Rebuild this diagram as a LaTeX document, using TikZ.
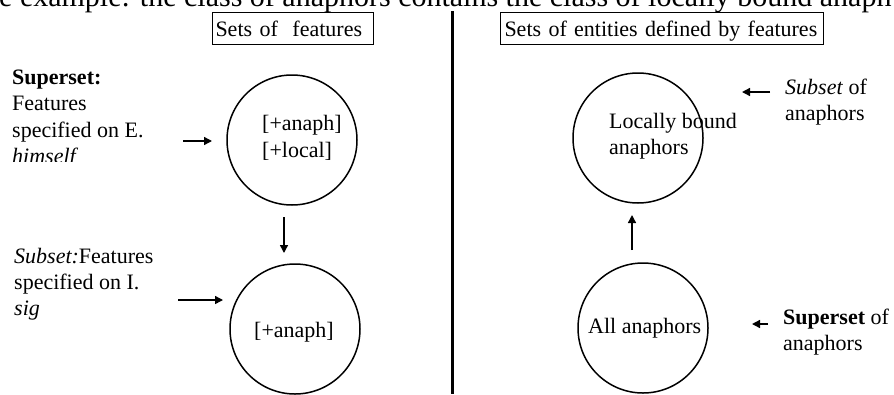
\documentclass[tikz,border=0pt]{standalone}
\usepackage{fontspec}
\setmainfont{Liberation Serif}
\usetikzlibrary{arrows.meta}
\begin{document}
\begin{tikzpicture}[x=1pt,y=-1pt,
  body/.style={font=\fontsize{22pt}{26.5pt}\selectfont},
  txt/.style={body, anchor=base west, inner sep=0pt},
  hdr/.style={body, draw, line width=1pt, anchor=north west, inner ysep=0pt,
    text height=24pt, text depth=8pt, align=left},
  setcircle/.style={circle, draw, line width=1.5pt, minimum size=130pt, inner sep=0pt},
  arr/.style={line width=1.4pt, -{Triangle[length=8pt,width=8pt]}},
  divider/.style={line width=3pt}]
\useasboundingbox (0,0) rectangle (894,394);
\clip (0,0) rectangle (894,394);

% running text line, cut by the top edge
\node[anchor=base west, inner sep=0pt, font=\fontsize{30pt}{36pt}\selectfont] (runline)
  at (-1,6.5) {e example: the class of anaphors contains the class of locally bound anaph};

% column headers and divider
\node[hdr, text width=155pt, inner xsep=3pt] (hdrL) at (212,12) {Sets of\ \ features};
\node[hdr, text width=315pt, inner xsep=4pt] (hdrR) at (500,12) {Sets of entities defined by features};
\coordinate (divtop) at (452.5,11);
\coordinate (divbot) at (452.5,394);
\draw[divider] (divtop) -- (divbot);

% left column: sets of features
\node[setcircle] (featA) at (292,140) {};
\node[txt] (featA1) at (262,130.5) {[+anaph]};
\node[txt] (featA2) at (262,157.5) {[+local]};
\node[setcircle] (featB) at (295,329) {};
\node[txt, anchor=base] (featB1) at (294,337.5) {[+anaph]};

\node[txt] (supL1) at (12,84) {\textbf{Superset:}};
\node[txt] (supL2) at (12,110.5) {Features};
\node[txt] (supL3) at (12,137) {specified on E.};
\begin{scope}
  \clip (0,140) rectangle (200,161);
  \node[txt] (supL4) at (12,163.5) {\textit{himself}};
\end{scope}

\node[txt] (subL1) at (14,263) {\textit{Subset:}Features};
\node[txt] (subL2) at (14,289) {specified on I.};
\node[txt] (subL3) at (14,315) {\textit{sig}};

\coordinate (pA0) at (183,141);  \coordinate (pA1) at (212,141);
\coordinate (pB0) at (178,300);  \coordinate (pB1) at (223,300);
\coordinate (pD0) at (284,217);  \coordinate (pD1) at (284,253);
\draw[arr] (pA0) -- (pA1);
\draw[arr] (pB0) -- (pB1);
\draw[arr] (pD0) -- (pD1);

% right column: sets of entities
\node[setcircle] (entC) at (638,138) {};
\node[txt] (entC1) at (609,128) {Locally bound};
\node[txt] (entC2) at (609,154) {anaphors};
\node[setcircle] (entD) at (643,328) {};
\node[txt] (entD1) at (588,333.5) {All anaphors};

\node[txt] (subR1) at (785,94) {\textit{Subset} of};
\node[txt] (subR2) at (785,120.5) {anaphors};
\node[txt] (supR1) at (783,324) {\textbf{Superset} of};
\node[txt] (supR2) at (783,350.5) {anaphors};

\coordinate (pC0) at (770,92);  \coordinate (pC1) at (742,92);
\coordinate (pE0) at (768,324); \coordinate (pE1) at (752,324);
\coordinate (pU0) at (632,250); \coordinate (pU1) at (632,215);
\draw[arr] (pC0) -- (pC1);
\draw[arr] (pE0) -- (pE1);
\draw[arr] (pU0) -- (pU1);
\end{tikzpicture}
\end{document}
